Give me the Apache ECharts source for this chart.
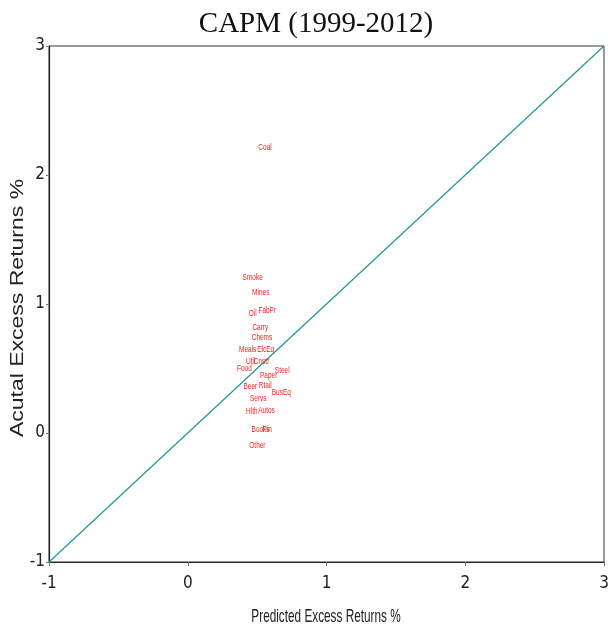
<!DOCTYPE html>
<html>
<head>
<meta charset="utf-8">
<script src="https://cdn.jsdelivr.net/npm/echarts@6/dist/echarts.min.js"></script>
<style>
  html, body { margin: 0; padding: 0; background: #fff; }
  #chart { width: 608px; height: 633px; }
</style>
</head>
<body>
<div id="chart"></div>
<script>
// Industry portfolios: CAPM-predicted vs. actual mean excess returns (%)
const industries = ['Coal', 'Smoke', 'Mines', 'Oil', 'FabPr', 'Carry', 'Chems', 'Meals', 'ElcEq',
  'Util', 'Cnstr', 'Food', 'Steel', 'Paper', 'Beer', 'Rtail', 'BusEq', 'Servs', 'Hlth', 'Autos',
  'Books', 'Fin', 'Other'];
const predicted = [0.557, 0.468, 0.526, 0.468, 0.573, 0.523, 0.535, 0.432, 0.562,
  0.454, 0.532, 0.408, 0.681, 0.583, 0.451, 0.559, 0.674, 0.508, 0.462, 0.568,
  0.525, 0.573, 0.502];
const actual = [2.214, 1.209, 1.088, 0.930, 0.951, 0.817, 0.739, 0.649, 0.649,
  0.556, 0.556, 0.500, 0.481, 0.448, 0.357, 0.368, 0.314, 0.270, 0.163, 0.174,
  0.029, 0.029, -0.095];
// 45-degree reference line endpoints
const diagonal = [[-1, -1], [3, 3]];
const tickValues = [-1, 0, 1, 2, 3];

const points = industries.map((name, i) => [predicted[i], actual[i], name]);

const condensed = "'DejaVu Sans Condensed', 'Liberation Sans Narrow', sans-serif";

const chart = echarts.init(document.getElementById('chart'), null, { renderer: 'canvas' });
chart.setOption({
  animation: false,
  backgroundColor: '#ffffff',
  title: {
    text: 'CAPM (1999-2012)',
    left: 311,
    top: 5,
    textAlign: 'center',
    textStyle: {
      fontFamily: "'Liberation Serif', 'DejaVu Serif', serif",
      fontSize: 29,
      fontWeight: 'normal',
      color: '#111'
    }
  },
  grid: {
    left: 49, right: 4, top: 46, bottom: 71,
    outerBoundsMode: 'none',
    containLabel: false,
    show: true, borderColor: '#333', borderWidth: 1, backgroundColor: 'transparent'
  },
  // axis titles, set in a condensed face
  graphic: [{
    type: 'text',
    x: 326, y: 617,
    scaleX: 0.62,
    silent: true,
    style: {
      text: 'Predicted Excess Returns %',
      font: "19px 'Liberation Sans', Arial, sans-serif",
      fill: '#222',
      align: 'center',
      verticalAlign: 'middle'
    }
  }, {
    type: 'text',
    x: 18, y: 308,
    rotation: Math.PI / 2,
    scaleY: 0.82,
    silent: true,
    style: {
      text: 'Acutal Excess Returns %',
      font: "23px 'Liberation Sans', Arial, sans-serif",
      fill: '#222',
      align: 'center',
      verticalAlign: 'middle'
    }
  }],
  xAxis: {
    type: 'value',
    min: -1, max: 3, interval: 1,
    axisLine: { show: true, onZero: false, lineStyle: { color: '#222', width: 1.2 } },
    axisTick: { show: true, length: 4, lineStyle: { color: '#777' } },
    axisLabel: {
      margin: 13,
      fontFamily: condensed, fontSize: 17, color: '#222',
      formatter: v => tickValues.includes(v) ? String(v) : ''
    },
    splitLine: { show: false }
  },
  yAxis: {
    type: 'value',
    min: -1, max: 3, interval: 1,
    axisLine: { show: true, onZero: false, lineStyle: { color: '#222', width: 1.2 } },
    axisTick: { show: true, length: 3, lineStyle: { color: '#777' } },
    axisLabel: {
      margin: 4,
      fontFamily: condensed, fontSize: 17, color: '#222',
      formatter: v => tickValues.includes(v) ? String(v) : ''
    },
    splitLine: { show: false }
  },
  series: [
    {
      type: 'line',
      data: diagonal,
      symbol: 'none',
      lineStyle: { color: '#1e9696', width: 1.2 },
      silent: true,
      z: 2
    },
    {
      // industry names placed at (predicted, actual)
      type: 'custom',
      data: points,
      encode: { x: 0, y: 1 },
      renderItem: (params, api) => {
        const pt = api.coord([api.value(0), api.value(1)]);
        return {
          type: 'text',
          x: pt[0],
          y: pt[1],
          scaleX: 0.72,
          style: {
            text: points[params.dataIndex][2],
            font: "9px 'Liberation Sans', Arial, sans-serif",
            fill: '#ff1a1a',
            align: 'center',
            verticalAlign: 'middle'
          }
        };
      },
      z: 3
    }
  ]
});
</script>
</body>
</html>
